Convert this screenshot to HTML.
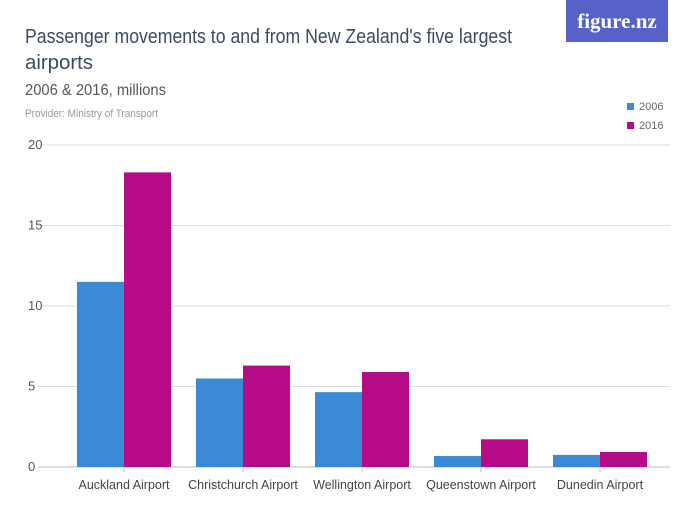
<!DOCTYPE html>
<html><head><meta charset="utf-8"><style>
body{margin:0;background:#fff;}
svg{display:block;font-family:"Liberation Sans Narrow","Liberation Sans",sans-serif;}
</style></head><body>
<svg id="chart" width="700" height="525" viewBox="0 0 700 525">
<rect x="566" y="0" width="102" height="42" fill="#5662c8"/>
<text x="617" y="28" font-family="Liberation Serif,serif" font-size="21" fill="#fff" text-anchor="middle" font-weight="bold">figure.nz</text>
<text x="25" y="43" font-size="20" fill="#3d4a63" textLength="487" lengthAdjust="spacingAndGlyphs">Passenger movements to and from New Zealand's five largest</text>
<text x="25" y="69" font-size="20" fill="#3d4a63" textLength="68" lengthAdjust="spacingAndGlyphs">airports</text>
<text x="25" y="95" font-size="16" fill="#555" textLength="141" lengthAdjust="spacingAndGlyphs">2006 &amp; 2016, millions</text>
<text x="25" y="117" font-size="11" fill="#999" textLength="133" lengthAdjust="spacingAndGlyphs">Provider: Ministry of Transport</text>
<rect x="627" y="103" width="7" height="7" fill="#3a8ad6"/>
<text x="639" y="110" font-size="11" fill="#666">2006</text>
<rect x="627" y="122" width="7" height="7" fill="#b60a87"/>
<text x="639" y="129" font-size="11" fill="#666">2016</text>
<g id="grid"></g><g id="bars"></g><g id="xlabels"></g>
</svg>
<script>
const categories=["Auckland Airport","Christchurch Airport","Wellington Airport","Queenstown Airport","Dunedin Airport"];
const values2006=[11.5,5.5,4.65,0.68,0.75];
const values2016=[18.3,6.3,5.9,1.72,0.93];
const yTicks=[0,5,10,15,20];
const NS="http://www.w3.org/2000/svg";
const y0=467,y20=145,xStart=64.5,step=119,barW=47;
const yS=v=>y0-(v/20)*(y0-y20);
const xC=i=>xStart+step*(i+0.5);
function mk(t,a,p){const e=document.createElementNS(NS,t);for(const k in a)e.setAttribute(k,a[k]);p.appendChild(e);return e;}
const grid=document.getElementById('grid'),bars=document.getElementById('bars'),xl=document.getElementById('xlabels');
yTicks.forEach(t=>{
 const y=yS(t);
 const l=mk('line',{x1:38,x2:670,y1:y,y2:y,stroke:t===0?'#bbb':'#ddd','stroke-width':1},grid);
 
 
 const tx=mk('text',{x:28,y:y+4,'font-size':13,fill:'#555'},grid);
 tx.textContent=t;
 
 
});
categories.forEach((c,i)=>{
 const cx=xC(i);
 const b1=mk('rect',{x:cx-barW,y:yS(values2006[i]),width:barW,height:y0-yS(values2006[i]),fill:'#3a8ad6'},bars);
 
 
 const b2=mk('rect',{x:cx,y:yS(values2016[i]),width:barW,height:y0-yS(values2016[i]),fill:'#b60a87'},bars);
 
 
 const tk=mk('line',{x1:cx,x2:cx,y1:y0,y2:y0+5,stroke:'#bbb'},xl);
 
 
 const t=mk('text',{x:cx,y:489,'font-size':12.5,fill:'#444','text-anchor':'middle'},xl);
 t.textContent=c;
 
 
});
</script>
</body></html>
